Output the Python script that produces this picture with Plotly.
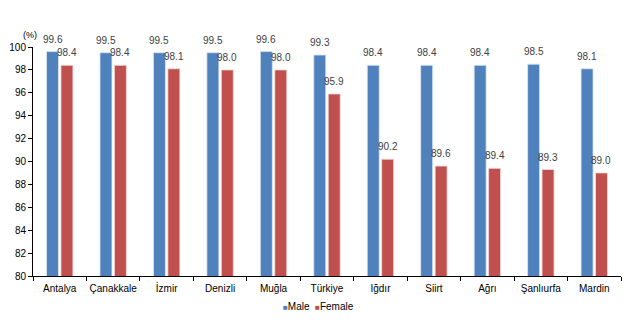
import plotly.graph_objects as go

categories = ["Antalya", "Çanakkale", "İzmir", "Denizli", "Muğla", "Türkiye",
              "Iğdır", "Siirt", "Ağrı", "Şanlıurfa", "Mardin"]
male = [99.6, 99.5, 99.5, 99.5, 99.6, 99.3, 98.4, 98.4, 98.4, 98.5, 98.1]
female = [98.4, 98.4, 98.1, 98.0, 98.0, 95.9, 90.2, 89.6, 89.4, 89.3, 89.0]
y_ticks = [80, 82, 84, 86, 88, 90, 92, 94, 96, 98, 100]
series_names = ["Male", "Female"]
series_colors = ["#4F81BD", "#C0504D"]

FAM = "Liberation Sans, Arial, sans-serif"
font = dict(family=FAM, size=10, color="#000000")

W, H = 631, 322
ML, MR, MT, MB = 33, 10, 47, 46
BARGAP, GROUPGAP = 0.46, 0.17
plot_w = W - ML - MR
slot = plot_w / len(categories) * (1 - BARGAP) / 2
offsets = [-slot / 2, slot / 2]

fig = go.Figure()
annotations = []
for i, (name, vals, col, edge) in enumerate([("Male", male, series_colors[0], "#DCE6F2"),
                                             ("Female", female, series_colors[1], "#F2DCDB")]):
    fig.add_trace(go.Bar(
        name=name, x=categories, y=vals,
        marker=dict(color=col, line=dict(color=edge, width=0.8)),
        showlegend=False,
    ))
    for c, v in zip(categories, vals):
        annotations.append(dict(
            text=f"{v:.1f}", x=c, y=v, xref="x", yref="y",
            xanchor="center", yanchor="bottom", xshift=offsets[i], yshift=5,
            showarrow=False, font=dict(family=FAM, size=10, color="#404040")))

legend_text = "&nbsp;&nbsp;".join(
    f"<span style='color:{c};font-size:8px'>■</span>{n}"
    for n, c in zip(series_names, series_colors))

annotations += [
    dict(text="(%)", x=0, xref="paper", y=1.0, yref="paper",
         xanchor="center", yanchor="bottom", yshift=5, xshift=-3, showarrow=False,
         font=dict(size=9, color="#000000")),
    dict(text=legend_text, x=0.486, xref="paper", y=-(306 - (H - MB)) / (H - MT - MB),
         yref="paper", xanchor="center", yanchor="middle", showarrow=False,
         font=dict(size=10, color="#000000")),
]

fig.update_layout(
    width=W, height=H,
    margin=dict(l=ML, r=MR, t=MT, b=MB),
    paper_bgcolor="white", plot_bgcolor="white",
    font=font,
    barmode="group", bargap=BARGAP, bargroupgap=GROUPGAP,
    showlegend=False,
    xaxis=dict(showline=True, linecolor="#000000", linewidth=1,
               ticks="outside", ticklen=4, tickcolor="#000000", tickangle=0,
               tickson="boundaries", showgrid=False, tickfont=dict(size=10),
               ticklabelstandoff=3, automargin=False),
    yaxis=dict(range=[80, 100], tickvals=y_ticks, showline=True, linecolor="#000000",
               linewidth=1, ticks="outside", ticklen=4, tickcolor="#000000",
               showgrid=False, zeroline=False, tickfont=dict(size=10),
               automargin=False),
    annotations=annotations,
)

fig.write_html("out.html")
